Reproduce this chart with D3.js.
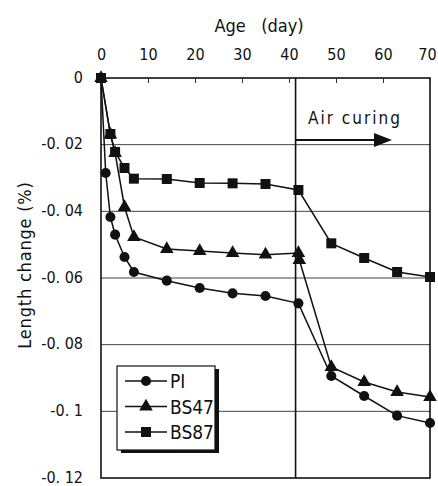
<!DOCTYPE html>
<html>
<head>
<meta charset="utf-8">
<script src="https://cdn.jsdelivr.net/npm/d3@7"></script>
<style>
  body { margin: 0; background: #fff; }
  svg text { font-family: "DejaVu Sans Condensed", "Liberation Sans Narrow", "DejaVu Sans", sans-serif; fill: #111; white-space: pre; }
</style>
</head>
<body>
<svg width="438" height="486"></svg>
<script>
// age (day) and length change (%)
var piDays   = [0, 1, 2, 3, 5, 7, 14, 21, 28, 35, 42, 49, 56, 63, 70];
var piVals   = [0, -0.0285, -0.0417, -0.047, -0.0537, -0.0582, -0.0608, -0.063, -0.0646, -0.0654, -0.0676, -0.0894, -0.0954, -0.1013, -0.1035];
var bs47Days = [0, 2, 3, 5, 7, 14, 21, 28, 35, 42, 42.2, 49, 56, 63, 70];
var bs47Vals = [0, -0.017, -0.0225, -0.0387, -0.0477, -0.0513, -0.0519, -0.0525, -0.053, -0.0525, -0.0546, -0.0867, -0.0912, -0.0942, -0.0957];
var bs87Days = [0, 2, 3, 5, 7, 14, 21, 28, 35, 42, 49, 56, 63, 70];
var bs87Vals = [0, -0.0168, -0.0222, -0.027, -0.0302, -0.0303, -0.0315, -0.0316, -0.0318, -0.0336, -0.0496, -0.054, -0.0582, -0.0597];
var seriesNames = ["PI", "BS47", "BS87"];
var xTicks = [0, 10, 20, 30, 40, 50, 60, 70];
var yTicks = [0, -0.02, -0.04, -0.06, -0.08, -0.1, -0.12];
var airCuringStart = 41.4;

(function() {
  var svg = d3.select("svg");
  var pL = 101, pR = 430, pT = 78, pB = 478;

  var x = d3.scaleLinear().domain([0, 70]).range([pL, pR]);
  var y = d3.scaleLinear().domain([0, -0.12]).range([pT, pB]);

  function fmt(v) {
    if (v === 0) return "0";
    return "-0. " + String(Math.abs(v)).slice(2);
  }

  // horizontal grid
  svg.append("g").selectAll("line").data(yTicks.slice(1, -1)).enter().append("line")
    .attr("x1", pL).attr("x2", pR)
    .attr("y1", function(d) { return y(d); }).attr("y2", function(d) { return y(d); })
    .style("stroke", "#444").style("stroke-width", "1px");

  // plot frame
  svg.append("rect").attr("x", pL).attr("y", pT).attr("width", pR - pL).attr("height", pB - pT)
    .style("fill", "none").style("stroke", "#111").style("stroke-width", "1.6px");

  // top axis
  var xAxis = svg.append("g").attr("transform", "translate(0," + pT + ")")
    .call(d3.axisTop(x).tickValues(xTicks).tickSizeInner(-5).tickSizeOuter(0).tickPadding(18));
  xAxis.select(".domain").remove();
  xAxis.selectAll("line").style("stroke", "#333");
  xAxis.selectAll("text").style("font-size", "16px")
    .attr("dx", function(d) { return d === 70 ? "-3" : null; });

  // left axis
  var yAxis = svg.append("g").attr("transform", "translate(" + pL + ",0)")
    .call(d3.axisLeft(y).tickValues(yTicks).tickSize(0).tickPadding(18).tickFormat(fmt));
  yAxis.select(".domain").remove();
  yAxis.selectAll("text").style("font-size", "16px").attr("dy", "0.25em");
  xAxis.attr("font-family", null);
  yAxis.attr("font-family", null);

  // axis titles
  svg.append("text").attr("x", 259).attr("y", 32).attr("text-anchor", "middle")
    .style("font-size", "18px").text("Age   (day)");
  svg.append("text").attr("transform", "translate(31,265) rotate(-90)").attr("text-anchor", "middle")
    .style("font-size", "18px").style("letter-spacing", "0.8px").text("Length change (%)");

  // air curing marker
  svg.append("line").attr("x1", x(airCuringStart)).attr("x2", x(airCuringStart))
    .attr("y1", pT).attr("y2", pB).style("stroke", "#111").style("stroke-width", "1.6px");
  svg.append("text").attr("x", 308).attr("y", 124).style("font-size", "17px")
    .style("letter-spacing", "2px").text("Air curing");
  svg.append("line").attr("x1", x(airCuringStart)).attr("x2", 378).attr("y1", 140).attr("y2", 140)
    .style("stroke", "#111").style("stroke-width", "2px");
  svg.append("path").attr("d", "M374,133L392,140L374,147Z").style("fill", "#111");

  var line = d3.line().x(function(d) { return x(d[0]); }).y(function(d) { return y(d[1]); });
  var sym = [d3.symbolCircle, d3.symbolTriangle, d3.symbolSquare];
  var symSize = [80, 80, 100];
  var series = [d3.zip(piDays, piVals), d3.zip(bs47Days, bs47Vals), d3.zip(bs87Days, bs87Vals)];

  series.forEach(function(pts, i) {
    svg.append("path").datum(pts).attr("d", line)
      .style("fill", "none").style("stroke", "#111").style("stroke-width", "1.5px");
    svg.append("g").selectAll("path").data(pts).enter().append("path")
      .attr("transform", function(d) { return "translate(" + x(d[0]) + "," + y(d[1]) + ")"; })
      .attr("d", d3.symbol().type(sym[i]).size(symSize[i]))
      .style("fill", "#111");
  });

  // legend
  var lg = svg.append("g");
  lg.append("rect").attr("x", 121).attr("y", 369).attr("width", 98).attr("height", 84).style("fill", "#111");
  lg.append("rect").attr("x", 117).attr("y", 366).attr("width", 98).attr("height", 84)
    .style("fill", "#fff").style("stroke", "#111").style("stroke-width", "1.2px");
  seriesNames.forEach(function(name, i) {
    var ly = 381 + i * 25.5;
    lg.append("line").attr("x1", 125).attr("x2", 167).attr("y1", ly).attr("y2", ly)
      .style("stroke", "#111").style("stroke-width", "1.5px");
    lg.append("path").attr("transform", "translate(146," + ly + ")")
      .attr("d", d3.symbol().type(sym[i]).size(symSize[i])).style("fill", "#111");
    lg.append("text").attr("x", 170).attr("y", ly + 7).style("font-size", "19px").text(name);
  });
})();
</script>
</body>
</html>
